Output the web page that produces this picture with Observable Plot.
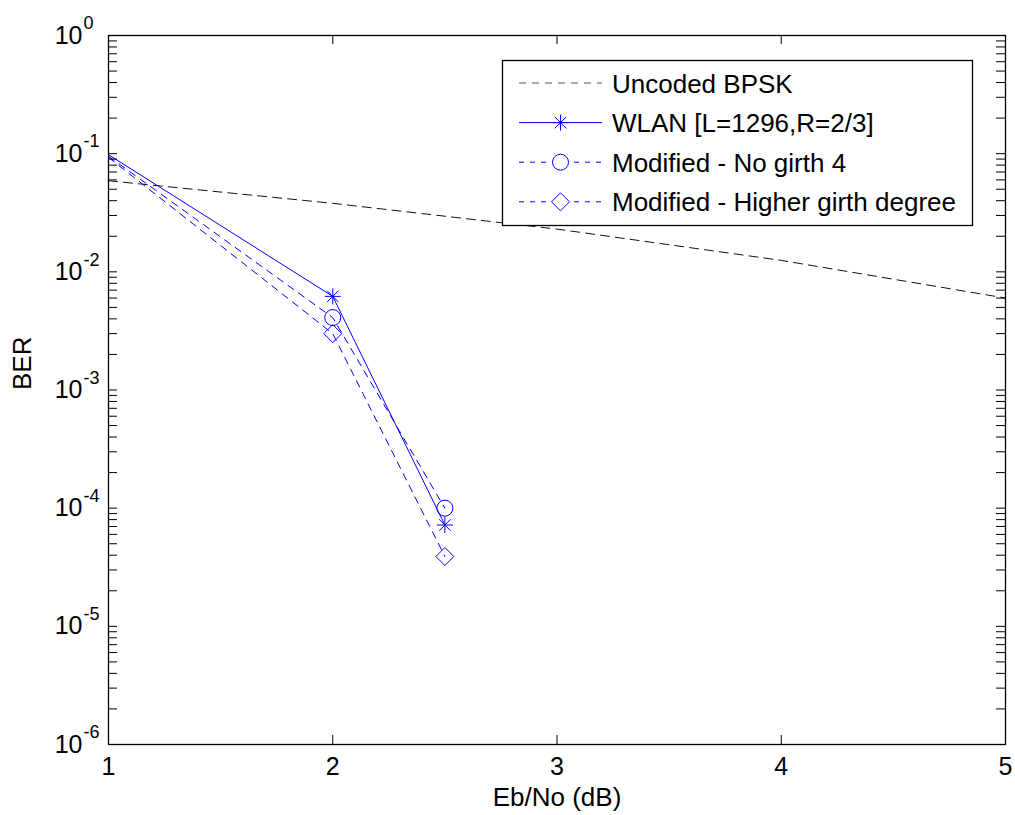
<!DOCTYPE html>
<html><head><meta charset="utf-8">
<script src="https://cdn.jsdelivr.net/npm/d3@7"></script>
<script src="https://cdn.jsdelivr.net/npm/@observablehq/plot@0.6"></script>
<style>
body{margin:0;background:#fff;}
#wrap{position:relative;width:1015px;height:815px;font-family:"Liberation Sans",Arial,sans-serif;}
#legend{position:absolute;left:0;top:0;pointer-events:none;}
</style></head><body><div id="wrap"></div>
<script>
// ---- data ----
const ebno = [1, 2, 3, 4, 5];
const uncodedBpsk = [0.0590, 0.0380, 0.0230, 0.0125, 0.0060];
const codedEbno = [1, 2, 2.5];
const wlan = [0.098, 0.0062, 7.2e-5];
const noGirth4 = [0.095, 0.0041, 1.0e-4];
const higherGirth = [0.093, 0.0030, 3.9e-5];
const xTicks = [1, 2, 3, 4, 5];
const yMajor = [1, 1e-1, 1e-2, 1e-3, 1e-4, 1e-5, 1e-6];
const seriesNames = ["Uncoded BPSK", "WLAN [L=1296,R=2/3]", "Modified - No girth 4", "Modified - Higher girth degree"];
const xLabel = "Eb/No (dB)";
const yLabel = "BER";

// minor log ticks (2..9 in every decade)
const yAllTicks = [];
for (let e = -6; e < 0; e++) for (let k = 1; k <= 9; k++) yAllTicks.push(k * Math.pow(10, e));
yAllTicks.push(1);

const bpskRows = ebno.map((x, i) => ({x, y: uncodedBpsk[i]}));
const mk = arr => codedEbno.map((x, i) => ({x, y: arr[i]}));
const wlanRows = mk(wlan), ng4Rows = mk(noGirth4), hgRows = mk(higherGirth);
const inside = rows => rows.filter(d => d.x > 1);

const asterisk = {draw(ctx, size){const r = Math.sqrt(size/Math.PI), d = r*0.72;
  ctx.moveTo(-r,0);ctx.lineTo(r,0);ctx.moveTo(0,-r);ctx.lineTo(0,r);
  ctx.moveTo(-d,-d);ctx.lineTo(d,d);ctx.moveTo(-d,d);ctx.lineTo(d,-d);}};
const diamond = {draw(ctx, size){const r = Math.sqrt(size/Math.PI);
  ctx.moveTo(0,-r);ctx.lineTo(r,0);ctx.lineTo(0,r);ctx.lineTo(-r,0);ctx.closePath();}};

const BLUE = "#0000ff";
const W = 1015, H = 815, ML = 108, MR = 10, MT = 35, MB = 71;
const FW = W - ML - MR, FH = H - MT - MB;
const TL = 9;

const chart = Plot.plot({
  width: W, height: H,
  marginLeft: ML, marginRight: MR, marginTop: MT, marginBottom: MB,
  style: {fontFamily: "'Liberation Sans', Arial, sans-serif", background: "#fff", color: "#000"},
  x: {domain: [1, 5], label: null},
  y: {type: "log", domain: [1e-6, 1], label: null},
  axis: null,
  marks: [
    Plot.line(bpskRows, {x: "x", y: "y", stroke: "#111", strokeWidth: 1, strokeDasharray: "9,6"}),
    Plot.line(wlanRows, {x: "x", y: "y", stroke: BLUE, strokeWidth: 1}),
    Plot.line(ng4Rows, {x: "x", y: "y", stroke: BLUE, strokeWidth: 1, strokeDasharray: "7,6"}),
    Plot.line(hgRows, {x: "x", y: "y", stroke: BLUE, strokeWidth: 1, strokeDasharray: "7,6"}),
    Plot.dot(inside(wlanRows), {x: "x", y: "y", symbol: asterisk, r: 8, stroke: BLUE, strokeWidth: 1, fill: "none"}),
    Plot.dot(inside(ng4Rows), {x: "x", y: "y", symbol: "circle", r: 8, stroke: BLUE, strokeWidth: 1, fill: "none"}),
    Plot.dot(inside(hgRows), {x: "x", y: "y", symbol: diamond, r: 9, stroke: BLUE, strokeWidth: 1, fill: "none"}),
    // inward ticks
    Plot.tickY(yAllTicks, {y: d => d, insetRight: FW - TL, stroke: "#000"}),
    Plot.tickY(yAllTicks, {y: d => d, insetLeft: FW - TL, stroke: "#000"}),
    Plot.tickX(xTicks, {x: d => d, insetTop: FH - TL, stroke: "#000"}),
    Plot.tickX(xTicks, {x: d => d, insetBottom: FH - TL, stroke: "#000"}),
    Plot.frame({stroke: "#000", strokeWidth: 1.3}),
    // tick labels
    Plot.axisY(yMajor, {anchor: "left", tickSize: 0, tickPadding: 26, tickFormat: () => "10", fontSize: 25, label: null, fill: "#000"}),
    Plot.axisY(yMajor, {anchor: "left", tickSize: 0, tickPadding: 0, tickFormat: d => String(Math.round(Math.log10(d))), textAnchor: "start", dx: -25, dy: -12, fontSize: 18, label: null, fill: "#000"}),
    Plot.axisX(xTicks, {anchor: "bottom", tickSize: 0, tickPadding: 13, tickFormat: d => String(d), fontSize: 25, label: null, fill: "#000"}),
    Plot.text([xLabel], {text: d => d, frameAnchor: "bottom", dy: 61, lineAnchor: "bottom", fontSize: 26, fill: "#000"}),
    Plot.text([yLabel], {text: d => d, frameAnchor: "left", dx: -86, rotate: -90, fontSize: 26, fill: "#000"})
  ]
});
const wrap = document.getElementById("wrap");
wrap.appendChild(chart);

// legend overlay
const ns = "http://www.w3.org/2000/svg";
const lg = document.createElementNS(ns, "svg");
lg.setAttribute("id", "legend"); lg.setAttribute("width", W); lg.setAttribute("height", H);
const L = {x0: 502.5, y0: 60.5, x1: 972.5, y1: 225.5, rows: [83, 122.6, 162.2, 201.8], lx0: 519, lx1: 602, mx: 560.5, tx: 612};
function el(tag, attrs, parent){const e = document.createElementNS(ns, tag); for (const k in attrs) e.setAttribute(k, attrs[k]); (parent||lg).appendChild(e); return e;}
el("rect", {x: L.x0, y: L.y0, width: L.x1 - L.x0, height: L.y1 - L.y0, fill: "#fff", stroke: "#000", "stroke-width": 1.3});
const styles = [
  {stroke: "#555", dash: "7,6", sym: null},
  {stroke: BLUE, dash: null, sym: "asterisk"},
  {stroke: BLUE, dash: "5,6", sym: "circle"},
  {stroke: BLUE, dash: "5,6", sym: "diamond"}
];
seriesNames.forEach((name, i) => {
  const y = L.rows[i], s = styles[i];
  const a = {x1: L.lx0, x2: L.lx1, y1: y, y2: y, stroke: s.stroke, "stroke-width": 1};
  if (s.dash) a["stroke-dasharray"] = s.dash;
  el("line", a);
  if (s.sym === "asterisk") {
    const r = 8, d = r*0.72, cx = L.mx;
    el("path", {d: `M${cx-r},${y}H${cx+r}M${cx},${y-r}V${y+r}M${cx-d},${y-d}L${cx+d},${y+d}M${cx-d},${y+d}L${cx+d},${y-d}`, stroke: BLUE, fill: "none"});
  } else if (s.sym === "circle") {
    el("circle", {cx: L.mx, cy: y, r: 8, fill: "#fff", stroke: BLUE});
  } else if (s.sym === "diamond") {
    const r = 9, cx = L.mx;
    el("path", {d: `M${cx},${y-r}L${cx+r},${y}L${cx},${y+r}L${cx-r},${y}Z`, fill: "#fff", stroke: BLUE});
  }
  const t = el("text", {x: L.tx, y: y + 9.5, "font-size": 26, "font-family": "'Liberation Sans', Arial, sans-serif", fill: "#000"});
  t.textContent = name;
});
wrap.appendChild(lg);
</script>
</body></html>
